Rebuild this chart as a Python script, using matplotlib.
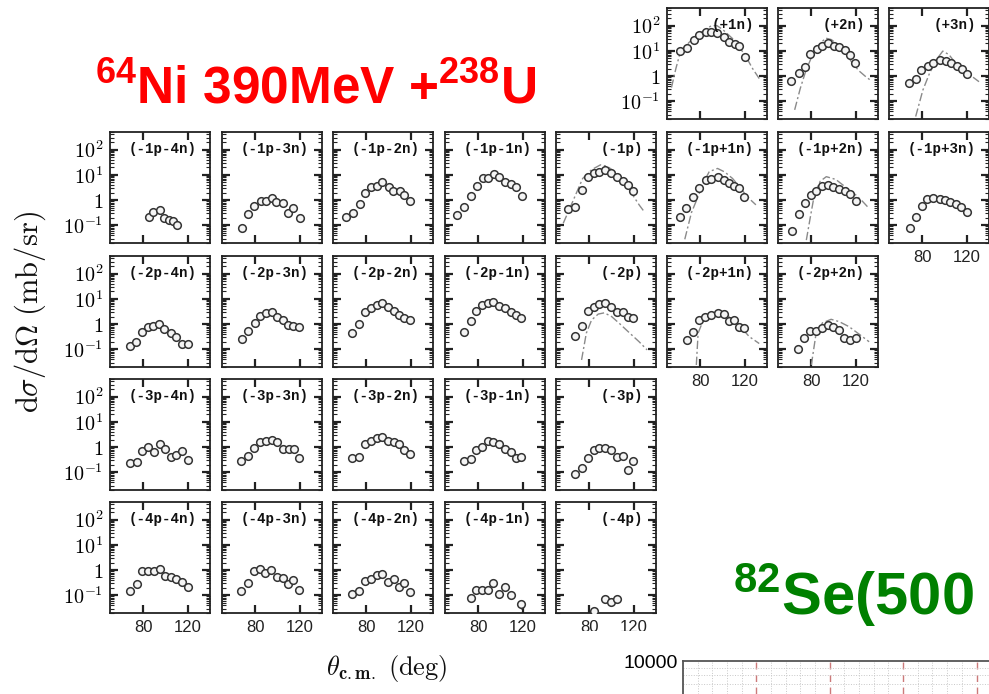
import matplotlib
matplotlib.use("Agg")
import matplotlib.pyplot as plt
from matplotlib.ticker import FixedLocator, LogLocator, NullFormatter, NullLocator, MultipleLocator
from matplotlib.patches import Rectangle

plt.rcParams["mathtext.fontset"] = "cm"
# glyphs for the 'custom' math font set, used only by the two headlines
plt.rcParams["mathtext.rm"] = "Liberation Sans:bold"
plt.rcParams["mathtext.it"] = "Liberation Sans:bold"
plt.rcParams["mathtext.bf"] = "Liberation Sans:bold"
plt.rcParams["font.family"] = ["DejaVu Sans"]

# ---------------------------------------------------------------------------
# Angular distributions d(sigma)/d(Omega) [mb/sr] vs theta_cm [deg]
# ---------------------------------------------------------------------------
# neutron pick-up channels
ang_p1n = [62, 68, 74, 79, 85, 90, 95, 101, 106, 111, 115, 120]
dsig_p1n = [10, 12.5, 26, 44, 56, 56, 52, 36, 23, 18, 15, 5.9]
th_ang_p1n = [54, 58, 62, 70, 80, 90, 95, 100, 110, 120, 127, 133]
th_dsig_p1n = [0.35, 2.0, 8.9, 22, 52, 100, 100, 71, 28, 7.1, 2.0, 0.8]

ang_p2n = [62, 69, 74, 79, 85, 90, 95, 100, 105, 110, 115, 119]
dsig_p2n = [0.66, 1.3, 2.4, 7.6, 11.5, 15.5, 20, 16, 14, 11, 6.9, 3.2]
th_ang_p2n = [65, 70, 75, 81, 87, 93, 98, 105, 112, 117, 123, 129, 133]
th_dsig_p2n = [0.046, 0.32, 1.6, 6.9, 18, 32, 28, 16, 7.1, 3.2, 1.6, 0.95, 0.7]

ang_p3n = [68, 74, 79, 85, 90, 96, 101, 106, 111, 116, 120]
dsig_p3n = [0.55, 0.79, 1.74, 2.6, 3.4, 4.4, 4.0, 3.2, 2.5, 2.0, 1.2]
th_ang_p3n = [74, 80.5, 86.5, 92.5, 98.4, 104, 110, 119, 125, 131]
th_dsig_p3n = [0.025, 0.28, 1.3, 4.4, 9.8, 7.1, 3.2, 1.5, 0.95, 0.6]

# one-proton stripping
ang_m1p4n = [85, 89, 95, 99, 103, 107, 110]
dsig_m1p4n = [0.21, 0.34, 0.40, 0.19, 0.16, 0.15, 0.10]

ang_m1p3n = [68, 73, 79, 85, 90, 95, 99, 105, 109, 114, 120]
dsig_m1p3n = [0.076, 0.28, 0.59, 0.93, 0.93, 1.17, 0.87, 0.74, 0.32, 0.5, 0.19]

ang_m1p2n = [62, 68, 74, 79, 84, 90, 94, 100, 104, 110, 114, 119]
dsig_m1p2n = [0.22, 0.30, 0.68, 2.0, 3.4, 3.6, 5.2, 3.4, 2.4, 2.2, 1.55, 0.89]

ang_m1p1n = [61, 67, 73, 79, 84, 89, 94, 99, 104, 109, 114, 119]
dsig_m1p1n = [0.26, 0.51, 1.45, 3.6, 7.2, 7.2, 10.5, 7.9, 5.4, 4.4, 3.2, 1.45]

ang_m1p = [61, 67.5, 73.5, 79, 84, 89, 94.5, 99.5, 105, 110, 114.5, 119]
dsig_m1p = [0.44, 0.51, 2.5, 7.9, 12.3, 12.9, 15.5, 12.3, 7.9, 5.9, 4.0, 2.2]
th_ang_m1p = [56.5, 65, 74, 82, 90, 96, 107, 119, 125, 130]
th_dsig_m1p = [0.12, 0.87, 7.2, 16, 25, 22, 10, 1.6, 0.63, 0.32]

ang_m1p1pn = [62, 67.5, 73, 79, 85, 90, 95.5, 101, 106, 110.5, 115, 119.5]
dsig_m1p1pn = [0.22, 0.47, 1.3, 3.1, 6.3, 6.6, 8.5, 6.3, 4.7, 3.6, 3.0, 1.3]
th_ang_m1p1pn = [66, 72, 78, 83, 88, 95.5, 102, 109, 115, 121, 126, 130]
th_dsig_m1p1pn = [0.028, 0.32, 1.4, 5.0, 13.5, 18, 13, 7.2, 3.5, 1.6, 0.95, 0.65]

ang_m1p2pn = [63, 69, 74, 79.5, 84.5, 90, 95, 99.5, 104.5, 110, 115, 120]
dsig_m1p2pn = [0.06, 0.28, 0.79, 1.6, 2.4, 3.6, 4.0, 3.2, 2.7, 2.2, 1.74, 0.95]
th_ang_m1p2pn = [75.5, 79, 83, 88, 93.5, 102, 110, 120, 126, 130.5]
th_dsig_m1p2pn = [0.026, 0.2, 1.9, 5.6, 8.5, 6.6, 3.5, 1.6, 0.9, 0.55]

ang_m1p3pn = [69, 74, 80, 84.5, 89.5, 95.5, 100, 105, 110, 115, 120]
dsig_m1p3pn = [0.081, 0.22, 0.59, 1.07, 1.17, 1.1, 1.0, 0.87, 0.68, 0.55, 0.33]

# two-proton stripping
ang_m2p4n = [68, 73, 79, 84, 89, 94.5, 99, 104.5, 109.5, 114.5, 120]
dsig_m2p4n = [0.14, 0.2, 0.5, 0.74, 0.85, 1.02, 0.62, 0.46, 0.32, 0.16, 0.17]

ang_m2p3n = [68, 73, 79.5, 84.5, 90, 95, 99.5, 104.5, 109, 114, 119.5]
dsig_m2p3n = [0.26, 0.55, 1.15, 2.1, 2.7, 2.9, 2.0, 1.45, 0.93, 0.85, 0.74]

ang_m2p2n = [67.5, 73.5, 79, 84.5, 89.5, 94.5, 99.5, 104.5, 109.5, 114, 119]
dsig_m2p2n = [0.44, 1.0, 3.1, 4.5, 5.8, 6.6, 4.9, 3.4, 2.3, 1.8, 1.45]

ang_m2p1n = [67, 73, 78, 83.5, 88.5, 93.5, 99, 104, 109, 114, 118.5]
dsig_m2p1n = [0.47, 1.3, 3.4, 5.8, 6.6, 7.8, 5.2, 4.3, 3.1, 2.3, 1.7]

ang_m2p = [67.5, 73.5, 79, 84, 89, 94.5, 99.5, 105, 110, 114.5, 119]
dsig_m2p = [0.34, 0.85, 3.4, 4.7, 6.3, 7.1, 4.7, 3.1, 3.1, 2.0, 1.8]
th_ang_m2p = [73, 77.3, 82, 88, 93.5, 100, 107, 115, 124.8, 132]
th_dsig_m2p = [0.038, 0.44, 1.45, 2.5, 2.8, 2.0, 1.07, 0.5, 0.2, 0.095]

ang_m2p1pn = [68, 73.5, 79, 84, 90, 95.5, 101, 105.5, 110.5, 115, 119.5]
dsig_m2p1pn = [0.23, 0.5, 1.45, 2.0, 2.3, 2.7, 2.5, 1.3, 1.45, 0.79, 0.72]
th_ang_m2p1pn = [76.4, 78, 84, 90, 98.7, 106, 113, 124, 133]
th_dsig_m2p1pn = [0.024, 0.44, 2.0, 2.8, 3.2, 2.0, 1.12, 0.32, 0.17]

ang_m2p2pn = [68, 73.5, 79, 84.5, 89.5, 95, 99.5, 104.5, 109.5, 115, 120]
dsig_m2p2pn = [0.1, 0.28, 0.55, 0.55, 0.68, 0.93, 0.79, 0.59, 0.28, 0.23, 0.28]
th_ang_m2p2pn = [80, 84.5, 90, 97.8, 105, 114, 123, 132]
th_dsig_m2p2pn = [0.024, 0.5, 1.12, 1.55, 1.26, 0.79, 0.4, 0.2]

# three-proton stripping
ang_m3p4n = [68, 74, 79, 84.5, 89.5, 95, 99.5, 104.5, 109.5, 114.5, 120]
dsig_m3p4n = [0.23, 0.25, 0.72, 0.98, 0.66, 1.3, 0.81, 0.4, 0.49, 0.72, 0.31]

ang_m3p3n = [67.5, 73, 78.5, 84.5, 90, 95, 99.5, 104.5, 110, 115, 119.5]
dsig_m3p3n = [0.29, 0.46, 0.89, 1.66, 1.74, 2.0, 1.55, 0.81, 0.81, 0.81, 0.38]

ang_m3p2n = [67.5, 73.5, 79, 84.5, 89.5, 94.5, 99.5, 104.5, 109.5, 114, 119]
dsig_m3p2n = [0.36, 0.4, 1.3, 1.8, 2.2, 2.6, 1.8, 1.66, 1.3, 0.78, 0.54]

ang_m3p1n = [67, 73, 78, 83.5, 88.5, 93.5, 99, 104, 109, 114, 118.5]
dsig_m3p1n = [0.28, 0.33, 0.78, 0.98, 1.8, 1.66, 1.3, 0.81, 0.62, 0.36, 0.4]

ang_m3p = [67.5, 73.5, 79, 84, 89, 94.5, 99.5, 105, 110, 114.5, 119]
dsig_m3p = [0.087, 0.145, 0.38, 0.78, 0.89, 0.89, 0.78, 0.42, 0.45, 0.12, 0.29]

# four-proton stripping
ang_m4p4n = [68, 74, 79, 84.5, 89.5, 95, 99.5, 104.5, 109.5, 114.5, 120]
dsig_m4p4n = [0.155, 0.28, 0.95, 0.95, 0.95, 1.07, 0.59, 0.51, 0.44, 0.35, 0.21]

ang_m4p3n = [67.5, 73, 78.5, 84.5, 89, 94.5, 99.5, 104.5, 109, 114, 119.5]
dsig_m4p3n = [0.155, 0.32, 0.95, 1.07, 0.79, 1.02, 0.51, 0.47, 0.28, 0.41, 0.17]

ang_m4p2n = [67.5, 73.5, 79, 84.5, 89.5, 94.5, 99.5, 104.5, 109.5, 114, 119]
dsig_m4p2n = [0.11, 0.155, 0.38, 0.45, 0.65, 0.71, 0.35, 0.44, 0.22, 0.32, 0.13]

ang_m4p1n = [73, 78, 83.5, 89, 93.5, 99, 104, 109, 118.5]
dsig_m4p1n = [0.076, 0.17, 0.16, 0.17, 0.32, 0.11, 0.21, 0.10, 0.044]
err_m4p1n = [0, 0, 0, 0, 0, 0.03, 0, 0, 0.015]

ang_m4p = [84, 94.5, 99.5, 105]
dsig_m4p = [0.025, 0.069, 0.056, 0.069]
err_m4p = [0, 0, 0.015, 0]

# (row, column, label, angles, cross sections, theory angles, theory values, errors)
panels = [
    (0, 5, "(+1n)", ang_p1n, dsig_p1n, th_ang_p1n, th_dsig_p1n, None),
    (0, 6, "(+2n)", ang_p2n, dsig_p2n, th_ang_p2n, th_dsig_p2n, None),
    (0, 7, "(+3n)", ang_p3n, dsig_p3n, th_ang_p3n, th_dsig_p3n, None),
    (1, 0, "(-1p-4n)", ang_m1p4n, dsig_m1p4n, None, None, None),
    (1, 1, "(-1p-3n)", ang_m1p3n, dsig_m1p3n, None, None, None),
    (1, 2, "(-1p-2n)", ang_m1p2n, dsig_m1p2n, None, None, None),
    (1, 3, "(-1p-1n)", ang_m1p1n, dsig_m1p1n, None, None, None),
    (1, 4, "(-1p)", ang_m1p, dsig_m1p, th_ang_m1p, th_dsig_m1p, None),
    (1, 5, "(-1p+1n)", ang_m1p1pn, dsig_m1p1pn, th_ang_m1p1pn, th_dsig_m1p1pn, None),
    (1, 6, "(-1p+2n)", ang_m1p2pn, dsig_m1p2pn, th_ang_m1p2pn, th_dsig_m1p2pn, None),
    (1, 7, "(-1p+3n)", ang_m1p3pn, dsig_m1p3pn, None, None, None),
    (2, 0, "(-2p-4n)", ang_m2p4n, dsig_m2p4n, None, None, None),
    (2, 1, "(-2p-3n)", ang_m2p3n, dsig_m2p3n, None, None, None),
    (2, 2, "(-2p-2n)", ang_m2p2n, dsig_m2p2n, None, None, None),
    (2, 3, "(-2p-1n)", ang_m2p1n, dsig_m2p1n, None, None, None),
    (2, 4, "(-2p)", ang_m2p, dsig_m2p, th_ang_m2p, th_dsig_m2p, None),
    (2, 5, "(-2p+1n)", ang_m2p1pn, dsig_m2p1pn, th_ang_m2p1pn, th_dsig_m2p1pn, None),
    (2, 6, "(-2p+2n)", ang_m2p2pn, dsig_m2p2pn, th_ang_m2p2pn, th_dsig_m2p2pn, None),
    (3, 0, "(-3p-4n)", ang_m3p4n, dsig_m3p4n, None, None, None),
    (3, 1, "(-3p-3n)", ang_m3p3n, dsig_m3p3n, None, None, None),
    (3, 2, "(-3p-2n)", ang_m3p2n, dsig_m3p2n, None, None, None),
    (3, 3, "(-3p-1n)", ang_m3p1n, dsig_m3p1n, None, None, None),
    (3, 4, "(-3p)", ang_m3p, dsig_m3p, None, None, None),
    (4, 0, "(-4p-4n)", ang_m4p4n, dsig_m4p4n, None, None, None),
    (4, 1, "(-4p-3n)", ang_m4p3n, dsig_m4p3n, None, None, None),
    (4, 2, "(-4p-2n)", ang_m4p2n, dsig_m4p2n, None, None, None),
    (4, 3, "(-4p-1n)", ang_m4p1n, dsig_m4p1n, None, None, err_m4p1n),
    (4, 4, "(-4p)", ang_m4p, dsig_m4p, None, None, err_m4p),
]

ytick_vals = [0.1, 1, 10, 100]
ytick_text = [r"$10^{-1}$", r"$1$", r"$10^{1}$", r"$10^{2}$"]
xtick_vals = [80, 120]
xtick_text = ["80", "120"]

# ---------------------------------------------------------------------------
W, H = 989, 694
fig = plt.figure(figsize=(W / 100, H / 100), dpi=100)
fig.patch.set_facecolor("white")

COL_X = [110, 222, 333, 445, 556, 667, 778, 889]
ROW_Y = [8, 132, 256, 379, 502]
PW, PH = 100, 111

# lowest panel of every column carries the angle labels
bottom_row = {c: max(r for (r, cc, *_) in panels if cc == c) for c in range(8)}

for (r, c, label, ang, dsig, tang, tdsig, err) in panels:
    ax = fig.add_axes([COL_X[c] / W, 1 - (ROW_Y[r] + PH) / H, PW / W, PH / H])
    ax.set_yscale("log")
    ax.set_xlim(50, 140)
    ax.set_ylim(10 ** -1.7, 10 ** 2.7)

    if tang is not None:
        ax.plot(tang, tdsig, color="#8a8a8a", lw=1.0, dashes=(6, 2, 1.5, 2), zorder=2)
    if err is not None:
        ax.errorbar(ang, dsig, yerr=err, fmt="none", ecolor="#333333", elinewidth=0.9, zorder=3)
    ax.plot(ang, dsig, ls="none", marker="o", ms=5.5, mfc="#f4f4f4", mec="#333333", mew=1.1, zorder=4)

    ax.text(0.87, 0.845, label, transform=ax.transAxes, ha="right", va="center",
            family="Liberation Mono", weight="bold", size=10.2, color="#111111", zorder=5)

    for s in ax.spines.values():
        s.set_color("#222222")
        s.set_linewidth(1.3)

    ax.yaxis.set_major_locator(FixedLocator(ytick_vals))
    ax.yaxis.set_minor_locator(LogLocator(base=10, subs=range(2, 10), numticks=20))
    ax.yaxis.set_minor_formatter(NullFormatter())
    ax.xaxis.set_major_locator(FixedLocator(xtick_vals))
    ax.xaxis.set_minor_locator(NullLocator())
    ax.tick_params(which="both", direction="in", top=True, right=True, color="#222222")
    ax.tick_params(which="major", length=6, width=1.6)
    ax.tick_params(which="minor", length=3, width=0.8)

    show_y = (c == 0 and r >= 1) or (r == 0 and c == 5)
    if show_y:
        ax.set_yticklabels(ytick_text, size=14.5)
        ax.tick_params(axis="y", pad=5)
    else:
        ax.tick_params(axis="y", labelleft=False)
    if bottom_row[c] == r:
        ax.set_xticklabels(xtick_text, family="Liberation Sans", size=12, color="#222222")
        ax.tick_params(axis="x", pad=5)
    else:
        ax.tick_params(axis="x", labelbottom=False)

# axis titles
fig.text(30 / W, 1 - 312 / H, r"$\mathrm{d}\sigma/\mathrm{d}\Omega\ \mathrm{(mb/sr)}$",
         rotation=90, ha="center", va="center", size=22, color="#111111")
fig.text(387 / W, 1 - 668 / H, r"$\theta_{\mathbf{c.m.}}\ \mathrm{(deg)}$",
         ha="center", va="center", size=19, color="#111111")

# headlines
fig.text(95 / W, 1 - 103 / H, r"$^{64}$Ni 390MeV +$^{238}$U", color="#ff0000",
         family="Liberation Sans", weight="bold", size=37, math_fontfamily="custom",
         ha="left", va="baseline")
fig.text(733 / W, 1 - 615 / H, r"$^{82}$Se(500", color="#008000",
         family="Liberation Sans", weight="bold", size=43, math_fontfamily="custom",
         ha="left", va="baseline")

# cover strip trimming the lowest angle labels of the last column
fig.add_artist(Rectangle((550 / W, 1 - 645 / H), 115 / W, 14 / H, transform=fig.transFigure,
                         facecolor="white", edgecolor="none", zorder=10))

# top strip of the next plot on the page
axb = fig.add_axes([683 / W, 0, (W - 683) / W, 33 / H])
axb.set_yscale("log")
axb.set_ylim(6000, 10000)
axb.set_xlim(0, 4.17)
axb.yaxis.set_major_locator(FixedLocator([10000]))
axb.set_yticklabels(["10000"], family="Liberation Sans", size=14)
axb.yaxis.set_minor_formatter(NullFormatter())
axb.xaxis.set_major_locator(FixedLocator([1, 2, 3, 4]))
axb.xaxis.set_minor_locator(MultipleLocator(0.2))
axb.tick_params(which="both", length=0, labelbottom=False, pad=4)
axb.grid(which="minor", axis="both", color="#c8c8c8", ls=":", lw=0.7)
axb.grid(which="major", axis="x", color="#cc7a7a", ls=(0, (5, 4)), lw=1.0)
for k in ("bottom", "right"):
    axb.spines[k].set_visible(False)
for k in ("top", "left"):
    axb.spines[k].set_color("#555555")
    axb.spines[k].set_linewidth(1.3)

fig.savefig("out.png", dpi=100)
